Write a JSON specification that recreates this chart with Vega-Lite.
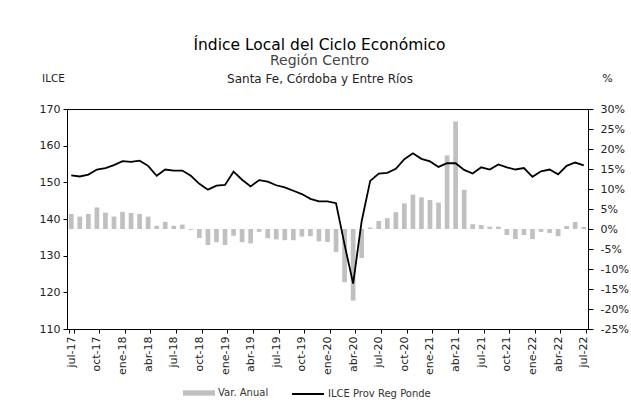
{
  "$schema": "https://vega.github.io/schema/vega-lite/v6.json",
  "width": 521,
  "height": 220,
  "autosize": {"type": "none"},
  "padding": {"left": 67, "top": 109, "right": 43, "bottom": 76},
  "background": "white",
  "config": {
    "font": "DejaVu Sans",
    "view": {"stroke": "black", "strokeWidth": 1},
    "axis": {"grid": false, "domainColor": "black", "tickColor": "black", "labelColor": "#222", "labelFont": "DejaVu Sans", "labelFontSize": 11, "titleFont": "DejaVu Sans", "titleFontWeight": "normal"},
    "legend": {"labelFont": "DejaVu Sans", "labelFontSize": 10, "labelColor": "#333", "labelOffset": 3}
  },
  "title": {
    "text": "Índice Local del Ciclo Económico",
    "subtitle": "Región Centro",
    "anchor": "middle",
    "dx": -8,
    "offset": 4,
    "font": "DejaVu Sans",
    "fontSize": 15.5,
    "fontWeight": "normal",
    "color": "black",
    "subtitleFont": "DejaVu Sans",
    "subtitleFontSize": 14,
    "subtitleColor": "#444",
    "subtitlePadding": 1
  },
  "data": {
    "values": [
      {"mes": "jul-17", "ilce": 151.9, "var": 3.75},
      {"mes": "ago-17", "ilce": 151.6, "var": 3.1},
      {"mes": "sep-17", "ilce": 152.1, "var": 3.75},
      {"mes": "oct-17", "ilce": 153.5, "var": 5.4},
      {"mes": "nov-17", "ilce": 153.9, "var": 4.1},
      {"mes": "dic-17", "ilce": 154.7, "var": 3.1},
      {"mes": "ene-18", "ilce": 155.8, "var": 4.3},
      {"mes": "feb-18", "ilce": 155.6, "var": 4.0},
      {"mes": "mar-18", "ilce": 155.9, "var": 3.75},
      {"mes": "abr-18", "ilce": 154.5, "var": 3.1},
      {"mes": "may-18", "ilce": 151.8, "var": 0.8},
      {"mes": "jun-18", "ilce": 153.5, "var": 1.8},
      {"mes": "jul-18", "ilce": 153.2, "var": 0.8},
      {"mes": "ago-18", "ilce": 153.2, "var": 1.1},
      {"mes": "sep-18", "ilce": 151.8, "var": -0.2},
      {"mes": "oct-18", "ilce": 149.6, "var": -2.25},
      {"mes": "nov-18", "ilce": 148.0, "var": -4.0},
      {"mes": "dic-18", "ilce": 149.1, "var": -3.3},
      {"mes": "ene-19", "ilce": 149.3, "var": -4.0},
      {"mes": "feb-19", "ilce": 152.9, "var": -1.7},
      {"mes": "mar-19", "ilce": 150.7, "var": -3.3},
      {"mes": "abr-19", "ilce": 148.9, "var": -3.6},
      {"mes": "may-19", "ilce": 150.6, "var": -0.7},
      {"mes": "jun-19", "ilce": 150.2, "var": -2.3},
      {"mes": "jul-19", "ilce": 149.2, "var": -2.6},
      {"mes": "ago-19", "ilce": 148.6, "var": -2.8},
      {"mes": "sep-19", "ilce": 147.7, "var": -2.8},
      {"mes": "oct-19", "ilce": 146.8, "var": -1.9},
      {"mes": "nov-19", "ilce": 145.5, "var": -1.8},
      {"mes": "dic-19", "ilce": 144.8, "var": -3.1},
      {"mes": "ene-20", "ilce": 144.8, "var": -3.25},
      {"mes": "feb-20", "ilce": 144.3, "var": -5.75},
      {"mes": "mar-20", "ilce": 133.0, "var": -13.3},
      {"mes": "abr-20", "ilce": 122.4, "var": -17.9},
      {"mes": "may-20", "ilce": 139.4, "var": -7.25},
      {"mes": "jun-20", "ilce": 150.4, "var": 0.35},
      {"mes": "jul-20", "ilce": 152.4, "var": 2.0},
      {"mes": "ago-20", "ilce": 152.6, "var": 2.7},
      {"mes": "sep-20", "ilce": 153.7, "var": 4.2},
      {"mes": "oct-20", "ilce": 156.3, "var": 6.4},
      {"mes": "nov-20", "ilce": 157.9, "var": 8.6},
      {"mes": "dic-20", "ilce": 156.4, "var": 7.9},
      {"mes": "ene-21", "ilce": 155.7, "var": 7.25},
      {"mes": "feb-21", "ilce": 154.2, "var": 6.6},
      {"mes": "mar-21", "ilce": 155.2, "var": 18.4},
      {"mes": "abr-21", "ilce": 155.2, "var": 26.9},
      {"mes": "may-21", "ilce": 153.4, "var": 9.8},
      {"mes": "jun-21", "ilce": 152.4, "var": 1.2},
      {"mes": "jul-21", "ilce": 154.1, "var": 1.0},
      {"mes": "ago-21", "ilce": 153.5, "var": 0.6},
      {"mes": "sep-21", "ilce": 154.9, "var": 0.6},
      {"mes": "oct-21", "ilce": 154.1, "var": -1.5},
      {"mes": "nov-21", "ilce": 153.5, "var": -2.5},
      {"mes": "dic-21", "ilce": 153.9, "var": -1.5},
      {"mes": "ene-22", "ilce": 151.5, "var": -2.5},
      {"mes": "feb-22", "ilce": 153.0, "var": -0.7},
      {"mes": "mar-22", "ilce": 153.5, "var": -1.0},
      {"mes": "abr-22", "ilce": 152.2, "var": -1.8},
      {"mes": "may-22", "ilce": 154.5, "var": 0.75},
      {"mes": "jun-22", "ilce": 155.4, "var": 1.75},
      {"mes": "jul-22", "ilce": 154.6, "var": 0.5}
    ]
  },
  "layer": [
    {
      "mark": {"type": "bar"},
      "encoding": {
        "x": {
          "field": "mes",
          "type": "ordinal",
          "sort": null,
          "scale": {"type": "band", "paddingInner": 0.45, "paddingOuter": 0.225},
          "axis": {
            "orient": "bottom",
            "title": null,
            "values": ["jul-17","oct-17","ene-18","abr-18","jul-18","oct-18","ene-19","abr-19","jul-19","oct-19","ene-20","abr-20","jul-20","oct-20","ene-21","abr-21","jul-21","oct-21","ene-22","abr-22","jul-22"],
            "labelAngle": -90,
            "labelFontSize": 11,
            "tickBand": "extent",
            "tickSize": 4,
            "labelPadding": 3
          }
        },
        "y": {
          "field": "var",
          "type": "quantitative",
          "scale": {"domain": [-25, 30], "nice": false, "zero": true},
          "axis": {
            "orient": "right",
            "values": [-25,-20,-15,-10,-5,0,5,10,15,20,25,30],
            "labelExpr": "datum.value + '%'",
            "tickSize": 5,
            "labelPadding": 7,
            "title": "%",
            "titleAngle": 0,
            "titleX": 19,
            "titleY": -31,
            "titleAlign": "center",
            "titleBaseline": "middle",
            "titleFontSize": 11,
            "titleColor": "#222"
          }
        },
        "fill": {
          "datum": "Var. Anual",
          "scale": {"range": ["#c0c0c0"]},
          "legend": {
            "title": null,
            "orient": "none",
            "legendX": 116,
            "legendY": 268,
            "symbolType": "M-1,-0.17H1V0.17H-1Z",
            "symbolSize": 1024,
            "symbolStrokeWidth": 0
          }
        }
      }
    },
    {
      "mark": {"type": "line", "strokeWidth": 1.8},
      "encoding": {
        "x": {
          "field": "mes",
          "type": "ordinal",
          "sort": null,
          "axis": {
            "orient": "top",
            "labels": false,
            "ticks": false,
            "domain": false,
            "title": "Santa Fe, Córdoba y Entre Ríos",
            "titleX": 252.5,
            "titleY": -31,
            "titleAlign": "center",
            "titleBaseline": "middle",
            "titleFontSize": 12,
            "titleColor": "#222"
          }
        },
        "y": {
          "field": "ilce",
          "type": "quantitative",
          "scale": {"domain": [110, 170], "nice": false, "zero": false},
          "axis": {
            "orient": "left",
            "values": [110,120,130,140,150,160,170],
            "tickSize": 4,
            "labelPadding": 3,
            "title": "ILCE",
            "titleAngle": 0,
            "titleX": -14,
            "titleY": -31,
            "titleAlign": "center",
            "titleBaseline": "middle",
            "titleFontSize": 10.5,
            "titleColor": "#222"
          }
        },
        "stroke": {
          "datum": "ILCE Prov Reg Ponde",
          "scale": {"range": ["#000000"]},
          "legend": {
            "title": null,
            "orient": "none",
            "legendX": 224,
            "legendY": 268,
            "symbolType": "stroke",
            "symbolSize": 1024,
            "symbolStrokeWidth": 2
          }
        }
      }
    }
  ],
  "resolve": {"scale": {"y": "independent"}, "axis": {"y": "independent", "x": "independent"}}
}
